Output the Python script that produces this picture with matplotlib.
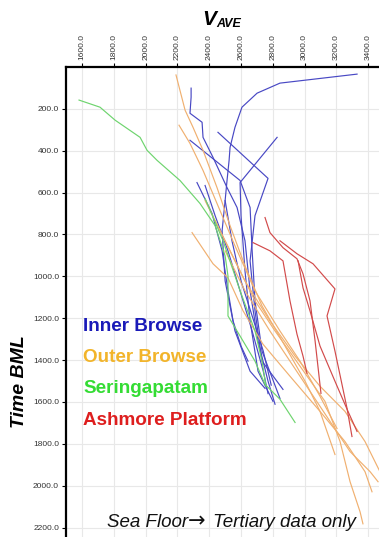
import matplotlib
matplotlib.use("Agg")
import matplotlib.pyplot as plt

plt.rcParams['font.family'] = ['Liberation Sans', 'DejaVu Sans']

# velocity (m/s) and time (ms), one list per well
inner_v = [
    [3330, 2845, 2701, 2606, 2562, 2531, 2525, 2512, 2500, 2481, 2500, 2562, 2657, 2751],
    [2286, 2286, 2279, 2355, 2361, 2424, 2512, 2575, 2625, 2657, 2707, 2770, 2814],
    [2279, 2594, 2657, 2670, 2688, 2732, 2845],
    [2455, 2770, 2688, 2657, 2688, 2732, 2864],
    [2827, 2594, 2600, 2625, 2657, 2707, 2801],
    [2323, 2418, 2481, 2518, 2550, 2600, 2644],
    [2374, 2437, 2518, 2594, 2670, 2740, 2770],
    [2500, 2543, 2600, 2680, 2740, 2790],
]
inner_t = [
    [34, 77, 125, 192, 288, 384, 446, 542, 638, 782, 1022, 1261, 1453, 1535],
    [101, 144, 221, 264, 336, 432, 576, 671, 830, 1069, 1309, 1501, 1611],
    [350, 542, 671, 878, 1117, 1357, 1583],
    [312, 532, 710, 926, 1165, 1405, 1540],
    [336, 552, 710, 974, 1213, 1453, 1597],
    [552, 700, 878, 1069, 1213, 1333, 1405],
    [566, 710, 878, 1069, 1261, 1453, 1560],
    [638, 830, 1022, 1213, 1357, 1520],
]

outer_v = [
    [2191, 2248, 2298, 2361, 2449, 2531, 2625, 2732, 2877, 3003, 3097, 3191],
    [2210, 2279, 2361, 2468, 2562, 2688, 2845, 2971, 3097, 3204],
    [2292, 2424, 2518, 2613, 2738, 2908, 3097, 3254, 3380, 3424],
    [2374, 2500, 2625, 2782, 2940, 3097, 3254, 3380, 3474],
    [2437, 2562, 2688, 2814, 2971, 3128, 3223, 3286, 3349, 3367],
    [2500, 2625, 2782, 2908, 3034, 3160, 3286, 3412, 3462],
]
outer_t = [
    [38, 206, 288, 398, 576, 758, 950, 1141, 1333, 1501, 1645, 1851],
    [278, 365, 494, 686, 854, 1069, 1261, 1405, 1573, 1727],
    [791, 940, 1007, 1165, 1324, 1477, 1645, 1789, 1933, 2029],
    [638, 830, 1022, 1213, 1381, 1525, 1645, 1789, 1933],
    [734, 926, 1117, 1261, 1429, 1597, 1789, 1981, 2125, 2182],
    [878, 1069, 1261, 1405, 1549, 1693, 1837, 1933, 1981],
]

sering_v = [
    [1581, 1713, 1808, 1965, 2009, 2072, 2216, 2342, 2437, 2500, 2518, 2518,
     2594, 2688, 2751, 2845, 2940],
    [2374, 2487, 2594, 2688, 2732, 2757],
]
sering_t = [
    [158, 192, 254, 336, 398, 446, 542, 652, 758, 902, 998, 1189,
     1285, 1405, 1516, 1587, 1698],
    [628, 830, 1069, 1261, 1405, 1525],
]

ashmore_v = [
    [2676, 2782, 2864, 2908, 2952, 2990, 3015],
    [2751, 2782, 2864, 2952, 2990, 3034, 3066, 3103],
    [2845, 2952, 3053, 3191, 3141, 3191, 3267, 3298],
    [2959, 2990, 3034, 3097, 3191, 3273, 3330],
]
ashmore_t = [
    [839, 878, 926, 1117, 1276, 1381, 1463],
    [719, 791, 863, 916, 988, 1117, 1309, 1559],
    [830, 892, 940, 1060, 1189, 1357, 1631, 1765],
    [926, 1055, 1165, 1333, 1501, 1645, 1741],
]

x_ticks = [1600, 1800, 2000, 2200, 2400, 2600, 2800, 3000, 3200, 3400]
y_ticks = [200, 400, 600, 800, 1000, 1200, 1400, 1600, 1800, 2000, 2200]

groups = [
    ("Inner Browse", inner_v, inner_t, '#4848c4', '#1a1ab8'),
    ("Outer Browse", outer_v, outer_t, '#f0b070', '#f2b42a'),
    ("Seringapatam", sering_v, sering_t, '#6ed46e', '#34dc34'),
    ("Ashmore Platform", ashmore_v, ashmore_t, '#d24a4a', '#de1e1e'),
]

W, H = 379, 537
fig = plt.figure(figsize=(W / 100, H / 100), dpi=100)
ax = fig.add_axes([66 / W, 0, 1 - 66 / W, 1 - 67 / H])

for name, vs, ts, c, _ in groups:
    for v, t in zip(vs, ts):
        ax.plot(v, t, color=c, lw=0.85)

ax.set_xlim(1499, 3468)
ax.set_ylim(2245, 0)
ax.set_xticks(x_ticks)
ax.set_yticks(y_ticks)
ax.set_xticklabels([f"{x:.1f}" for x in x_ticks], rotation=90)
ax.set_yticklabels([f"{y:.1f}" for y in y_ticks])
ax.xaxis.tick_top()
ax.tick_params(axis='both', labelsize=6, length=3, width=0.8,
               labelcolor='#333333', pad=2)
ax.grid(True, color='#e8e8e8', lw=0.8)
ax.set_axisbelow(True)
for s in ['right', 'bottom']:
    ax.spines[s].set_visible(False)
for s in ['top', 'left']:
    ax.spines[s].set_linewidth(1.6)

# legend written as coloured labels
baselines = [331, 362, 393, 425]
for (name, _, _, _, tc), yb in zip(groups, baselines):
    fig.text(83 / W, 1 - yb / H, name, color=tc, fontsize=13.6,
             fontweight='bold', va='baseline', ha='left')

fig.text(107 / W, 1 - 527 / H, "Sea Floor", fontsize=13.5, style='italic',
         va='baseline', ha='left', color='#111111')
fig.text(188 / W, 1 - 521 / H, "\u2192", fontsize=15, family='DejaVu Sans',
         va='center', ha='left', color='#111111')
fig.text(213 / W, 1 - 527 / H, "Tertiary data only", fontsize=13.5,
         style='italic', va='baseline', ha='left', color='#111111')
fig.text(20 / W, 1 - 382 / H, "Time BML", rotation=90, fontsize=14,
         fontweight='bold', style='italic', va='center', ha='center')
fig.text(202 / W, 1 - 25 / H, "V", fontsize=15, fontweight='bold',
         style='italic', va='baseline', ha='left')
fig.text(216 / W, 1 - 27 / H, "AVE", fontsize=9, fontweight='bold',
         style='italic', va='baseline', ha='left')

fig.savefig("out.png", dpi=100)
